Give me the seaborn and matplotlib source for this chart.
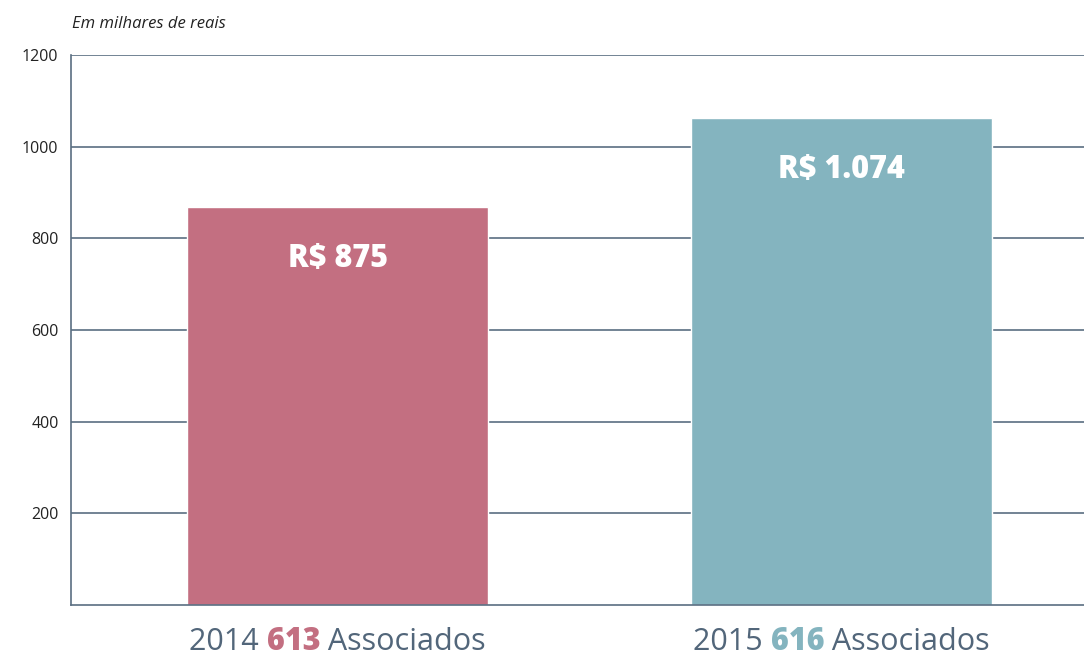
import matplotlib
matplotlib.use("Agg")
import matplotlib.pyplot as plt
import seaborn as sns
import pandas as pd
from matplotlib.offsetbox import TextArea, HPacker, AnnotationBbox

# ---- data ----
years = ["2014", "2015"]
values = [868, 1062]            # bar heights (thousands of R$)
value_labels = ["R$ 875", "R$ 1.074"]
members = ["613", "616"]
yticks = [200, 400, 600, 800, 1000, 1200]

colors = ["#c36f81", "#84b4bf"]
axis_color = "#5a6e82"
text_color = "#52667a"

sns.set_theme(style="white")
plt.rcParams["font.family"] = ["Open Sans", "DejaVu Sans"]

fig = plt.figure(figsize=(10.84, 6.58), dpi=100)
ax = fig.add_axes([71/1084, 53/658, 1 - 71/1084, (605-55)/658])

df = pd.DataFrame({"year": years, "value": values})
sns.barplot(data=df, x="year", y="value", hue="year", palette=colors,
            width=0.597, legend=False, ax=ax, saturation=1)

ax.set_xlim(-0.529, 1.481)
ax.set_ylim(0, 1200)
ax.set_yticks(yticks)
ax.set_yticklabels([str(t) for t in yticks], fontsize=11.5, color="#222222")
ax.tick_params(axis="y", length=0, pad=9)
ax.set_xticks([])
ax.set_xlabel("")
ax.set_ylabel("")

ax.grid(axis="y", color=axis_color, linewidth=1.2)
ax.set_axisbelow(True)
for s in ["top", "right"]:
    ax.spines[s].set_visible(False)
for s in ["left", "bottom"]:
    ax.spines[s].set_color(axis_color)
    ax.spines[s].set_linewidth(1.2)
ax.spines["bottom"].set_zorder(5)

# value labels inside the bars
for i, (v, lab) in enumerate(zip(values, value_labels)):
    ax.annotate(lab, xy=(i, v), xytext=(0, -37), textcoords="offset points",
                ha="center", va="center", color="white", fontsize=22,
                fontweight="heavy")

# category labels below
for i, (yr, m) in enumerate(zip(years, members)):
    parts = [
        TextArea(yr + " ", textprops=dict(color=text_color, fontsize=22)),
        TextArea(m, textprops=dict(color=colors[i], fontsize=22, fontweight="heavy")),
        TextArea(" Associados", textprops=dict(color=text_color, fontsize=22)),
    ]
    box = HPacker(children=parts, align="baseline", pad=0, sep=0)
    ab = AnnotationBbox(box, (i, 0), xybox=(0, -27), xycoords=("data", "axes fraction"),
                        boxcoords="offset points", frameon=False,
                        box_alignment=(0.5, 0.5), annotation_clip=False)
    ax.add_artist(ab)

fig.text(72/1084, 1 - 24/658, "Em milhares de reais", fontsize=12, style="italic",
         color="#222222", ha="left", va="center")

fig.savefig("out.png", dpi=100)
